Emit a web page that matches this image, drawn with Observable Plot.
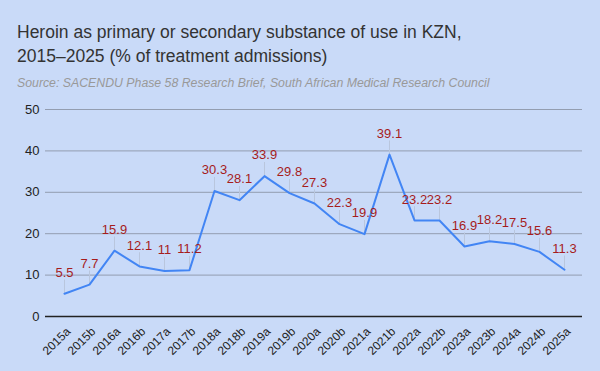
<!DOCTYPE html>
<html>
<head>
<meta charset="utf-8">
<script src="https://cdn.jsdelivr.net/npm/d3@7"></script>
<script src="https://cdn.jsdelivr.net/npm/@observablehq/plot@0.6"></script>
<style>
  html, body { margin: 0; padding: 0; background: #c9daf8; width: 600px; height: 371px; overflow: hidden; }
  #header { padding: 20px 0 0 17px; height: 95px; box-sizing: border-box; font-family: "Liberation Sans", Arial, sans-serif; }
  #title { font-size: 17.5px; line-height: 24px; color: #333; }
  #subtitle { font-size: 12.3px; line-height: 15px; color: #999; font-style: italic; margin-top: 7.5px; }
  #chart svg { display: block; }
</style>
</head>
<body>
<div id="header">
  <div id="title">Heroin as primary or secondary substance of use in KZN,<br>2015–2025 (% of treatment admissions)</div>
  <div id="subtitle">Source: SACENDU Phase 58 Research Brief, South African Medical Research Council</div>
</div>
<div id="chart"></div>
<script>
const periods = ["2015a","2015b","2016a","2016b","2017a","2017b","2018a","2018b","2019a","2019b","2020a","2020b","2021a","2021b","2022a","2022b","2023a","2023b","2024a","2024b","2025a"];
const values = [5.5, 7.7, 15.9, 12.1, 11, 11.2, 30.3, 28.1, 33.9, 29.8, 27.3, 22.3, 19.9, 39.1, 23.2, 23.2, 16.9, 18.2, 17.5, 15.6, 11.3];
const yTicks = [0, 10, 20, 30, 40, 50];

const data = periods.map((p, i) => ({period: p, value: values[i]}));

const chart = Plot.plot({
  width: 600,
  height: 276,
  marginTop: 14,
  marginBottom: 55,
  marginLeft: 45,
  marginRight: 18,
  style: {background: "transparent", fontFamily: "Liberation Sans, Arial, sans-serif"},
  x: {type: "point", domain: periods, padding: 0.5, axis: null},
  y: {domain: [0, 50], ticks: yTicks},
  marks: [
    Plot.gridY(yTicks.filter(t => t > 0), {stroke: "#939db0", strokeOpacity: 1, strokeWidth: 1}),
    Plot.ruleY([0], {stroke: "#222", strokeWidth: 1.5}),
    Plot.axisY(yTicks, {tickSize: 0, tickPadding: 6, fontSize: 13, fill: "#222", label: null}),
    Plot.text(periods, {x: d => d, y: () => 0, text: d => d, rotate: -45, textAnchor: "end", dx: 4, dy: 13, fontSize: 12, fill: "#222"}),
    Plot.ruleX(data, {x: "period", y1: d => d.value, y2: d => d.value + 3.3, stroke: "#b9c6dd", strokeWidth: 1}),
    Plot.line(data, {x: "period", y: "value", stroke: "#4285f4", strokeWidth: 2}),
    Plot.text(data, {x: "period", y: "value", text: d => String(d.value), dy: -21, fill: "#a61c1c", fontSize: 13})
  ]
});
document.getElementById("chart").appendChild(chart);
</script>
</body>
</html>
